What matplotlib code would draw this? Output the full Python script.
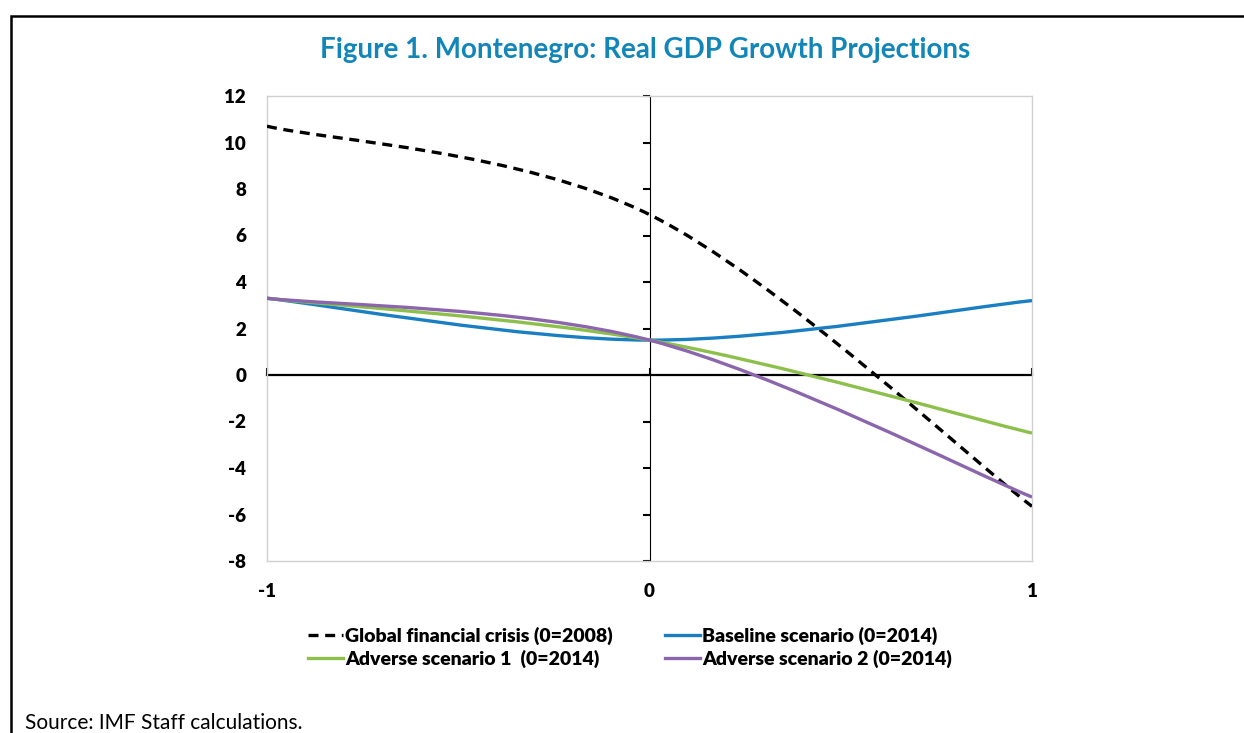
import matplotlib
matplotlib.use("Agg")
import matplotlib.pyplot as plt
from matplotlib.path import Path
from matplotlib.patches import PathPatch, Rectangle
from matplotlib.lines import Line2D

# --- data ---
x_vals = [-1, 0, 1]
gfc = [10.7, 6.9, -5.65]
baseline = [3.3, 1.5, 3.2]
adverse1 = [3.3, 1.5, -2.5]
adverse2 = [3.3, 1.5, -5.25]

series_names = ["Global financial crisis (0=2008)", "Baseline scenario (0=2014)",
                "Adverse scenario 1  (0=2014)", "Adverse scenario 2 (0=2014)"]
y_ticks = [-8, -6, -4, -2, 0, 2, 4, 6, 8, 10, 12]
x_ticks = [-1, 0, 1]

plt.rcParams['font.family'] = ['Lato', 'DejaVu Sans']
plt.rcParams['axes.unicode_minus'] = False


def smooth_path(xs, ys):
    # Excel-style smoothed line: cubic bezier segments through the data points
    pts = list(zip(xs, ys))
    n = len(pts)
    verts = [pts[0]]
    codes = [Path.MOVETO]
    for i in range(n - 1):
        p_prev = pts[max(i - 1, 0)]
        p0 = pts[i]
        p1 = pts[i + 1]
        p_next = pts[min(i + 2, n - 1)]
        c1 = (p0[0] + (p1[0] - p_prev[0]) / 6, p0[1] + (p1[1] - p_prev[1]) / 6)
        c2 = (p1[0] - (p_next[0] - p0[0]) / 6, p1[1] - (p_next[1] - p0[1]) / 6)
        verts += [c1, c2, p1]
        codes += [Path.CURVE4] * 3
    return Path(verts, codes)


fig = plt.figure(figsize=(12.44, 7.33), dpi=100)
ax = fig.add_axes([267 / 1244, 1 - 561 / 733, 765 / 1244, 465 / 733])

styles = [
    dict(color="black", ls=(0, (3, 2)), lw=2.4),
    dict(color="#1a7fc2", ls="-", lw=2.4),
    dict(color="#8cc04b", ls="-", lw=2.4),
    dict(color="#8b66ad", ls="-", lw=2.4),
]
data = [gfc, baseline, adverse1, adverse2]
handles = []
for ys, st, name in zip(data, styles, series_names):
    patch = PathPatch(smooth_path(x_vals, ys), fill=False, edgecolor=st["color"],
                      linestyle=st["ls"], linewidth=st["lw"], capstyle="butt", zorder=3)
    ax.add_patch(patch)
    handles.append(Line2D([], [], color=st["color"], linestyle=st["ls"], linewidth=st["lw"]))

ax.set_xlim(-1, 1)
ax.set_ylim(-8, 12)
ax.set_yticks(y_ticks)
ax.set_xticks(x_ticks)
ax.tick_params(length=0, labelsize=13.5)
ax.tick_params(axis="y", pad=15)
ax.tick_params(axis="x", pad=16)
for lab in ax.get_xticklabels() + ax.get_yticklabels():
    lab.set_fontweight("heavy")
for sp in ax.spines.values():
    sp.set_color("#d0d0d0")
    sp.set_linewidth(1.0)

# axes crossing at zero
yax = ax.secondary_yaxis(0.5)
yax.set_yticks(y_ticks)
yax.tick_params(direction="in", length=5, width=1.5, labelleft=False, labelright=False)
yax.spines["left"].set_linewidth(1.6)
yax.spines["left"].set_color("black")

xax = ax.secondary_xaxis(0.4)
xax.set_xticks(x_ticks)
xax.tick_params(direction="in", length=5, width=1.5, labelbottom=False, labeltop=False)
xax.spines["bottom"].set_linewidth(1.6)
xax.spines["bottom"].set_color("black")

fig.text(645 / 1244, 1 - 50 / 733, "Figure 1. Montenegro: Real GDP Growth Projections",
         ha="center", va="center", fontsize=20, fontweight="bold", color="#1286b8")

# legend filled row by row: GFC, Baseline / Adverse 1, Adverse 2
order = [0, 2, 1, 3]
leg = fig.legend([handles[i] for i in order], [series_names[i] for i in order], ncol=2,
                 loc="center", bbox_to_anchor=(630 / 1244, 1 - 647 / 733), frameon=False,
                 prop=dict(weight="heavy", size=14), handlelength=1.8, handletextpad=0.1,
                 columnspacing=2.7, labelspacing=0.25)

fig.text(25 / 1244, 1 - 723 / 733, "Source: IMF Staff calculations.",
         ha="left", va="center", fontsize=15)

# outer frame (runs off the right and bottom edges)
fig.patches.append(Rectangle((10.5 / 1244, -0.1), 1.2, 1.1 - 16 / 733, transform=fig.transFigure,
                             fill=False, edgecolor="black", linewidth=1.8))

fig.savefig("out.png", dpi=100)
